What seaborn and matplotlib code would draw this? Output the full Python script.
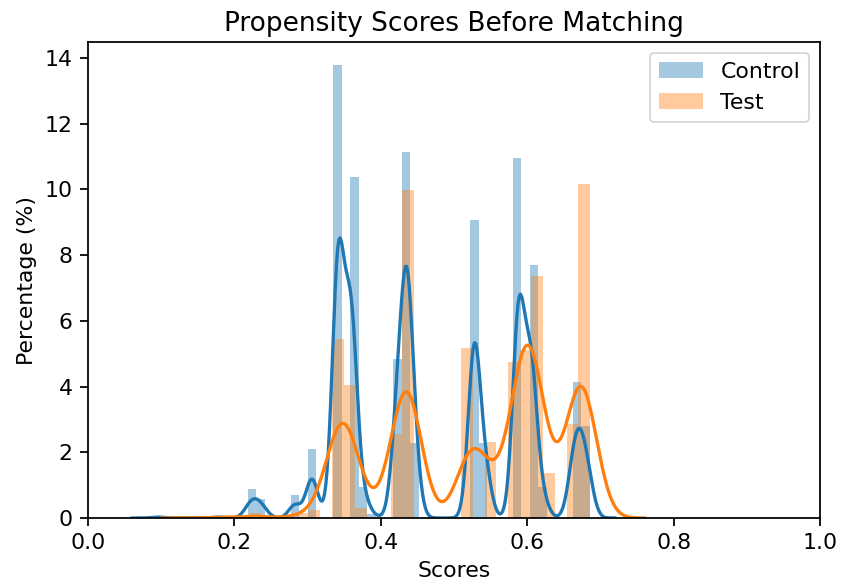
import numpy as np
import matplotlib
matplotlib.use("Agg")
import matplotlib.pyplot as plt
from matplotlib.patches import Patch
import seaborn as sns

# ---- data (density per point, score positions) ----
control_scores = [0.0960, 0.1777, 0.2200, 0.2275, 0.2335, 0.2400, 0.2827, 0.3060,
                  0.3420, 0.3595, 0.3760, 0.3877, 0.4227, 0.4355, 0.4460, 0.5278,
                  0.5430, 0.5885, 0.6055, 0.6211, 0.6628, 0.6705, 0.6765, 0.6840]
control_density = [0.05, 0.05, 0.44, 0.44, 0.29, 0.29, 0.70, 2.10,
                   13.79, 10.38, 0.95, 0.12, 4.84, 11.14, 2.28, 9.07,
                   2.28, 10.96, 7.70, 0.95, 2.07, 2.07, 1.40, 1.40]
control_binwidth = 0.01167
control_binrange = (0.0901, 0.6853)

test_scores = [0.1808, 0.2289, 0.2931, 0.3091, 0.3412, 0.3572, 0.3733, 0.4214,
               0.4374, 0.5220, 0.5460, 0.5860, 0.5980, 0.6080, 0.6240, 0.6640,
               0.6715, 0.6810]
test_density = [0.05, 0.15, 0.15, 0.25, 5.45, 4.05, 0.29, 2.56,
                9.98, 5.17, 2.31, 4.75, 5.10, 7.36, 1.38, 2.86,
                5.085, 5.085]
test_binwidth = 0.01604
test_binrange = (0.1728, 0.6861)

labels = ["Control", "Test"]
colors = ["#1f77b4", "#ff7f0e"]
kde_bw = [0.0083, 0.020]

s = 1.22
plt.rcParams.update({
    "font.size": 10 * s,
    "axes.titlesize": 12 * s,
    "axes.labelsize": 10 * s,
    "xtick.labelsize": 10 * s,
    "ytick.labelsize": 10 * s,
    "legend.fontsize": 10 * s,
    "axes.linewidth": 0.8 * s,
    "xtick.major.size": 3.5 * s,
    "ytick.major.size": 3.5 * s,
    "xtick.major.width": 0.8 * s,
    "ytick.major.width": 0.8 * s,
    "xtick.major.pad": 3.5 * s,
    "ytick.major.pad": 3.5 * s,
})

fig = plt.figure(figsize=(841 / 130, 587 / 130), dpi=130)
ax = fig.add_axes([0.1046, 0.1175, 0.975 - 0.1046, 0.9284 - 0.1175])

groups = [
    (control_scores, control_density, control_binwidth, control_binrange),
    (test_scores, test_density, test_binwidth, test_binrange),
]
for (x, w, bwid, brange), col, bw in zip(groups, colors, kde_bw):
    x = np.asarray(x)
    w = np.asarray(w)
    sns.histplot(x=x, weights=w, binwidth=bwid, binrange=brange, stat="count",
                 color=col, alpha=0.4, linewidth=0, ax=ax)
    wstd = np.sqrt(np.cov(x, aweights=w))
    sns.kdeplot(x=x, weights=w, bw_method=bw / wstd, color=col,
                linewidth=1.5 * s, gridsize=400, ax=ax)

ax.set_xlim(0, 1)
ax.set_title("Propensity Scores Before Matching")
ax.set_xlabel("Scores")
ax.set_ylabel("Percentage (%)")
handles = [Patch(facecolor=c, alpha=0.4) for c in colors]
ax.legend(handles, labels, loc="upper right")

fig.savefig("out.png", dpi=130)
